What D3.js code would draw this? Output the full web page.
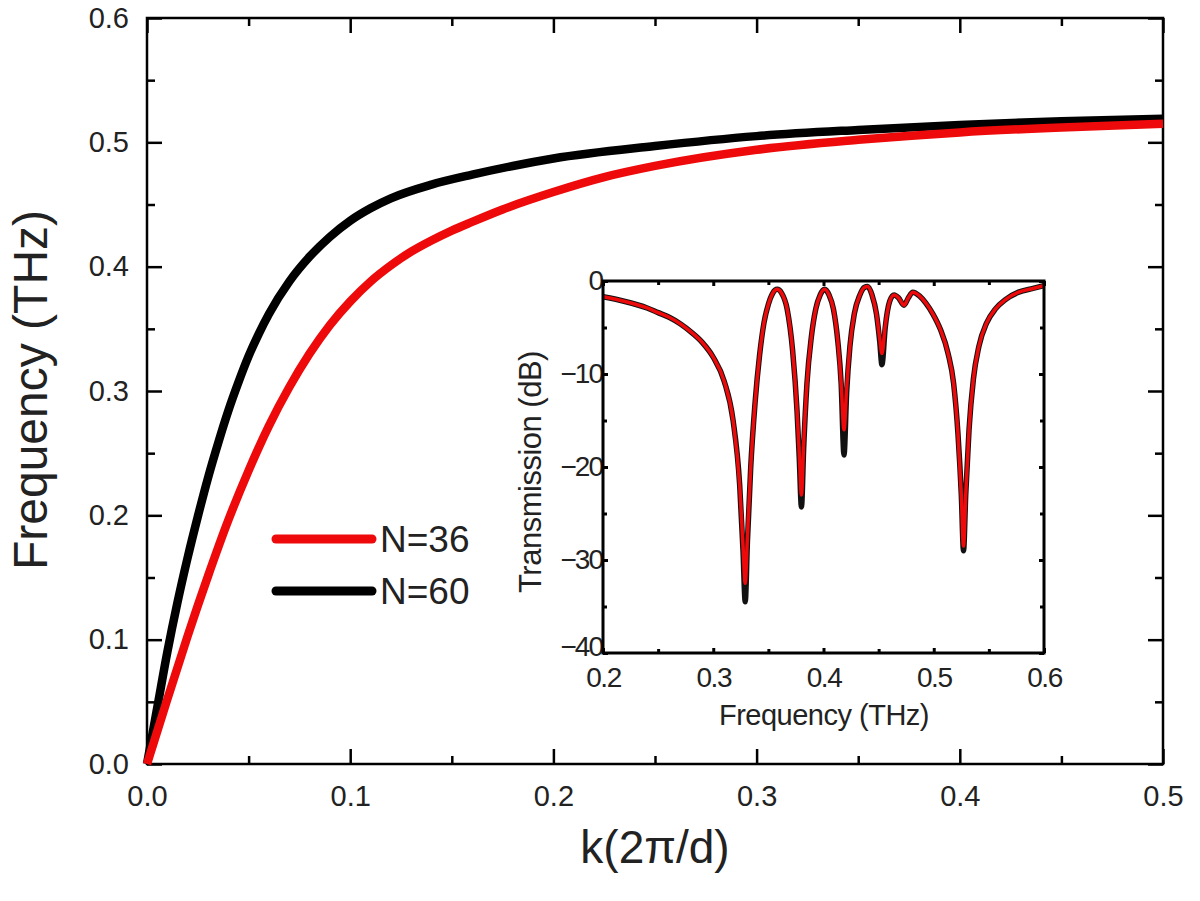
<!DOCTYPE html>
<html>
<head>
<meta charset="utf-8">
<script src="https://cdn.jsdelivr.net/npm/d3@7"></script>
<style>
  body { margin: 0; background: #fff; }
  svg { display: block; }
  .tick text { fill: #222; }
</style>
</head>
<body>
<script>
// courbes de dispersion (k en 2π/d, fréquence en THz)
const kN60 = [0, 0.005, 0.01, 0.015, 0.02, 0.025, 0.03, 0.035, 0.04, 0.045, 0.05, 0.055, 0.06, 0.07, 0.08, 0.09, 0.10, 0.11, 0.12, 0.14, 0.16, 0.18, 0.2, 0.25, 0.3, 0.35, 0.4, 0.45, 0.5];
const fN60 = [0, 0.045, 0.09, 0.13, 0.166, 0.199, 0.230, 0.258, 0.284, 0.307, 0.328, 0.346, 0.362, 0.388, 0.408, 0.424, 0.437, 0.447, 0.455, 0.466, 0.474, 0.481, 0.487, 0.497, 0.505, 0.510, 0.514, 0.517, 0.519];
const kN36 = [0, 0.01, 0.02, 0.03, 0.04, 0.05, 0.06, 0.07, 0.08, 0.09, 0.10, 0.11, 0.12, 0.13, 0.14, 0.15, 0.16, 0.175, 0.2, 0.225, 0.25, 0.3, 0.35, 0.4, 0.45, 0.5];
const fN36 = [0, 0.052, 0.103, 0.151, 0.196, 0.236, 0.272, 0.303, 0.330, 0.353, 0.372, 0.388, 0.401, 0.412, 0.421, 0.429, 0.436, 0.446, 0.460, 0.472, 0.481, 0.494, 0.502, 0.508, 0.512, 0.515];

// encart : transmission (dB)
const insetFreq = [0.20, 0.22, 0.24, 0.25, 0.26, 0.27, 0.28, 0.29, 0.30, 0.31, 0.318, 0.324, 0.327, 0.329, 0.331, 0.334, 0.338, 0.342, 0.346, 0.350, 0.354, 0.358, 0.362, 0.367, 0.372, 0.376, 0.378, 0.380, 0.382, 0.385, 0.389, 0.393, 0.397, 0.401, 0.405, 0.409, 0.413, 0.416, 0.4186, 0.421, 0.424, 0.428, 0.433, 0.437, 0.440, 0.444, 0.448, 0.451, 0.453, 0.456, 0.460, 0.464, 0.468, 0.473, 0.477, 0.481, 0.487, 0.493, 0.499, 0.506, 0.513, 0.518, 0.522, 0.525, 0.527, 0.529, 0.532, 0.536, 0.541, 0.548, 0.556, 0.565, 0.577, 0.590, 0.600];
const insetBlack = [-1.7, -2.2, -2.9, -3.4, -3.9, -4.6, -5.5, -6.6, -8.2, -10.8, -15, -22, -29, -34.5, -28, -20, -13, -8, -4.5, -2.5, -1.3, -0.9, -1.3, -3, -7.5, -14, -19, -24.3, -18, -11, -6, -3, -1.5, -0.9, -1.5, -3, -6.5, -11, -18.7, -12, -7, -3.5, -1.5, -0.7, -0.6, -1.5, -3.5, -6.5, -9, -5, -2.2, -1.5, -1.8, -2.6, -1.8, -1.2, -1.6, -2.4, -3.5, -5.2, -7.8, -11, -16.5, -23, -29, -23, -16, -10.5, -7, -4.5, -3, -2, -1.2, -0.8, -0.5];
const insetRed = [-1.7, -2.2, -2.9, -3.4, -3.9, -4.6, -5.5, -6.6, -8.2, -10.8, -15, -22, -28.5, -32.5, -27.5, -20, -13, -8, -4.5, -2.5, -1.3, -0.9, -1.3, -3, -7.5, -14, -18.5, -23, -17.5, -11, -6, -3, -1.5, -0.9, -1.5, -3, -6.5, -11, -16, -11.5, -7, -3.5, -1.5, -0.7, -0.6, -1.5, -3.5, -6.2, -7.8, -4.8, -2.2, -1.5, -1.8, -2.6, -1.8, -1.2, -1.6, -2.4, -3.5, -5.2, -7.8, -11, -16.5, -23, -28.5, -23, -16, -10.5, -7, -4.5, -3, -2, -1.2, -0.8, -0.5];

const mainXTicks = [0, 0.1, 0.2, 0.3, 0.4, 0.5];
const mainYTicks = [0, 0.1, 0.2, 0.3, 0.4, 0.5, 0.6];
const insetXTicks = [0.2, 0.3, 0.4, 0.5, 0.6];
const insetYTicks = [-40, -30, -20, -10, 0];

const legendLabels = ["N=36", "N=60"];
const RED = "#ee0a0a";
const colors = [RED, "#000"];

const width = 1200, height = 901;
const svg = d3.select("body").append("svg")
    .attr("width", width)
    .attr("height", height);

const font = "'Liberation Sans', Arial, sans-serif";

// ---------- graphique principal ----------
const x = d3.scaleLinear().domain([0, 0.5]).range([147, 1163]);
const y = d3.scaleLinear().domain([0, 0.6]).range([764, 18]);

function halfSteps(t) {
    const out = [];
    for (let i = 0; i < t.length - 1; i++) out.push((t[i] + t[i + 1]) / 2);
    return out;
}

const main = svg.append("g").style("font-family", font);

// graduations majeures avec étiquettes
main.append("g")
    .attr("transform", "translate(0,764)")
    .call(d3.axisBottom(x).tickValues(mainXTicks).tickSize(-15).tickPadding(21).tickFormat(d3.format(".1f")))
    .call(g => g.select(".domain").remove())
    .call(g => g.selectAll("text").style("font-size", "29px"));
main.append("g")
    .attr("transform", "translate(147,0)")
    .call(d3.axisLeft(y).tickValues(mainYTicks).tickSize(-15).tickPadding(18).tickFormat(d3.format(".1f")))
    .call(g => g.select(".domain").remove())
    .call(g => g.selectAll("text").style("font-size", "29px"));
// graduations en haut / à droite, et mineures
main.append("g").attr("transform", "translate(0,18)")
    .call(d3.axisTop(x).tickValues(mainXTicks).tickSize(-15).tickFormat(""));
main.append("g").attr("transform", "translate(1163,0)")
    .call(d3.axisRight(y).tickValues(mainYTicks).tickSize(-15).tickFormat(""));
main.append("g").attr("transform", "translate(0,764)")
    .call(d3.axisBottom(x).tickValues(halfSteps(mainXTicks)).tickSize(-8).tickFormat(""));
main.append("g").attr("transform", "translate(0,18)")
    .call(d3.axisTop(x).tickValues(halfSteps(mainXTicks)).tickSize(-8).tickFormat(""));
main.append("g").attr("transform", "translate(147,0)")
    .call(d3.axisLeft(y).tickValues(halfSteps(mainYTicks)).tickSize(-8).tickFormat(""));
main.append("g").attr("transform", "translate(1163,0)")
    .call(d3.axisRight(y).tickValues(halfSteps(mainYTicks)).tickSize(-8).tickFormat(""));
main.selectAll(".domain").remove();
main.selectAll(".tick line").attr("stroke", "#000").attr("stroke-width", 2.5);

main.append("rect")
    .attr("x", x(0)).attr("y", y(0.6))
    .attr("width", x(0.5) - x(0)).attr("height", y(0) - y(0.6))
    .attr("fill", "none").attr("stroke", "#000").attr("stroke-width", 2.5);

const line = d3.line().x(d => x(d[0])).y(d => y(d[1])).curve(d3.curveMonotoneX);

main.append("path")
    .datum(kN60.map((k, i) => [k, fN60[i]]))
    .attr("d", line)
    .attr("fill", "none").attr("stroke", "#000").attr("stroke-width", 8.5);
main.append("path")
    .datum(kN36.map((k, i) => [k, fN36[i]]))
    .attr("d", line)
    .attr("fill", "none").attr("stroke", RED).attr("stroke-width", 8.5);

// titres des axes
main.append("text")
    .attr("transform", "translate(47,390) rotate(-90)")
    .attr("text-anchor", "middle")
    .style("font-size", "48px").attr("fill", "#222")
    .text("Frequency (THz)");
main.append("text")
    .attr("x", 655).attr("y", 863)
    .attr("text-anchor", "middle")
    .style("font-size", "46px").attr("fill", "#222")
    .text("k(2π/d)");

// légende
const legend = main.append("g").attr("transform", "translate(276,539)");
legendLabels.forEach((lab, i) => {
    legend.append("line")
        .attr("x1", 0).attr("x2", 96)
        .attr("y1", i * 52).attr("y2", i * 52)
        .attr("stroke", colors[i]).attr("stroke-width", 9).attr("stroke-linecap", "round");
    legend.append("text")
        .attr("x", 104).attr("y", i * 52).attr("dy", "0.36em")
        .style("font-size", "37px").attr("fill", "#222")
        .text(lab);
});

// ---------- encart ----------
const ix = d3.scaleLinear().domain([0.2, 0.6]).range([603, 1044]);
const iy = d3.scaleLinear().domain([-40, 0]).range([653, 281]);
const inset = svg.append("g").style("font-family", font);

inset.append("rect")
    .attr("x", ix(0.2)).attr("y", iy(0))
    .attr("width", ix(0.6) - ix(0.2)).attr("height", iy(-40) - iy(0))
    .attr("fill", "#fff");

const iline = d3.line().x(d => ix(d[0])).y(d => iy(d[1])).curve(d3.curveMonotoneX);
inset.append("path")
    .datum(insetFreq.map((f, i) => [f, insetBlack[i]]))
    .attr("d", iline)
    .attr("fill", "none").attr("stroke", "#111").attr("stroke-width", 5.5);
inset.append("path")
    .datum(insetFreq.map((f, i) => [f, insetRed[i]]))
    .attr("d", iline)
    .attr("fill", "none").attr("stroke", RED).attr("stroke-width", 3.5);

inset.append("g").attr("transform", "translate(0,653)")
    .call(d3.axisBottom(ix).tickValues(insetXTicks).tickSize(-5).tickPadding(14).tickFormat(d3.format(".1f")))
    .call(g => g.selectAll("text").style("font-size", "28px").style("letter-spacing", "-1.5px"));
inset.append("g").attr("transform", "translate(603,0)")
    .call(d3.axisLeft(iy).tickValues(insetYTicks).tickSize(-5).tickPadding(1).tickFormat(d3.format("d")))
    .call(g => g.selectAll("text").style("font-size", "28px").style("letter-spacing", "-2px"))
    // le "-40" touche le "0.2" comme dans l'original : on le remonte un peu
    .call(g => g.selectAll("text").filter(d => d === -40).attr("dy", "0.1em"));
inset.append("g").attr("transform", "translate(0,281)")
    .call(d3.axisTop(ix).tickValues(insetXTicks).tickSize(-5).tickFormat(""));
inset.append("g").attr("transform", "translate(1044,0)")
    .call(d3.axisRight(iy).tickValues(insetYTicks).tickSize(-5).tickFormat(""));
inset.append("g").attr("transform", "translate(0,653)")
    .call(d3.axisBottom(ix).tickValues(halfSteps(insetXTicks)).tickSize(-4).tickFormat(""));
inset.append("g").attr("transform", "translate(0,281)")
    .call(d3.axisTop(ix).tickValues(halfSteps(insetXTicks)).tickSize(-4).tickFormat(""));
inset.append("g").attr("transform", "translate(603,0)")
    .call(d3.axisLeft(iy).tickValues(halfSteps(insetYTicks)).tickSize(-4).tickFormat(""));
inset.append("g").attr("transform", "translate(1044,0)")
    .call(d3.axisRight(iy).tickValues(halfSteps(insetYTicks)).tickSize(-4).tickFormat(""));
inset.selectAll(".domain").remove();
inset.selectAll(".tick line").attr("stroke", "#000").attr("stroke-width", 3);

inset.append("rect")
    .attr("x", ix(0.2)).attr("y", iy(0))
    .attr("width", ix(0.6) - ix(0.2)).attr("height", iy(-40) - iy(0))
    .attr("fill", "none").attr("stroke", "#000").attr("stroke-width", 3);

inset.append("text")
    .attr("transform", "translate(541,472) rotate(-90)")
    .attr("text-anchor", "middle")
    .style("font-size", "31px").style("letter-spacing", "-0.5px").attr("fill", "#222")
    .text("Transmission (dB)");
inset.append("text")
    .attr("x", 824).attr("y", 725)
    .attr("text-anchor", "middle")
    .style("font-size", "29px").style("letter-spacing", "-0.5px").attr("fill", "#222")
    .text("Frequency (THz)");
</script>
</body>
</html>
